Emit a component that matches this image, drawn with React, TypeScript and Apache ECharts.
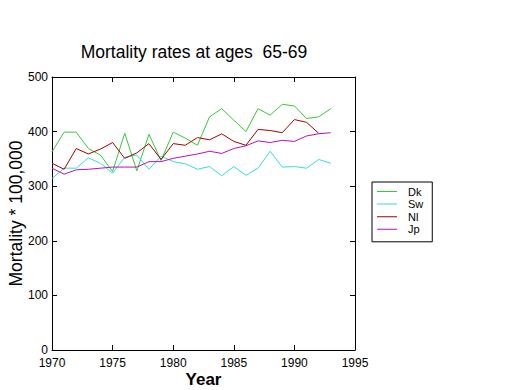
import React, { useEffect, useRef } from "react";
import * as echarts from "echarts";

const years = [1970,1971,1972,1973,1974,1975,1976,1977,1978,1979,1980,1981,1982,1983,1984,1985,1986,1987,1988,1989,1990,1991,1992,1993];
const dk = [363,399,399,369,357,327,397,328,395,347,399,388,375,427,442,421,400,442,430,450,447,424,427,442];
const sw = [314,333,333,352,342,324,353,357,331,355,345,341,331,336,319,336,320,333,364,335,336,333,349,342];
const nl = [342,331,369,359,368,380,351,361,378,349,378,375,389,385,396,382,375,404,402,398,422,417,397];
const jp = [333,322,330,331,333,335,335,335,345,345,351,355,359,364,360,369,374,383,380,384,382,392,396,398];

const seriesNames = ["Dk", "Sw", "Nl", "Jp"];
const seriesColors = ["#33cc33", "#33dddd", "#aa0000", "#bb11bb"];
const seriesData = [dk, sw, nl, jp];

const legendIcon =
  "path://M0,0L0.01,0L0.01,0.01Z M0,5L20,5L20,6L0,6Z M19.99,11L20,11L20,10.99Z";

export default function App() {
  const ref = useRef<HTMLDivElement>(null);
  useEffect(() => {
    const chart = echarts.init(ref.current!, null, { renderer: "svg" });
    const font = "Liberation Sans, Arial, sans-serif";
    const axisCommon = {
      type: "value" as const,
      axisLine: { show: true, onZero: false, lineStyle: { color: "#000", width: 1 } },
      axisTick: { show: true, inside: true, length: 5, lineStyle: { color: "#000" } },
      splitLine: { show: false },
    };
    chart.setOption({
      animation: false,
      backgroundColor: "#fff",
      textStyle: { fontFamily: font },
      graphic: [
        {
          type: "text",
          x: 194,
          y: 52,
          style: {
            text: "Mortality rates at ages  65-69",
            font: "17.5px " + font,
            fill: "#000",
            align: "center",
            verticalAlign: "middle",
          },
        },
      ],
      grid: { left: 52, right: 165, top: 77, bottom: 40, containLabel: false, outerBoundsMode: "none" },
      legend: {
        orient: "vertical",
        left: 372,
        top: 182,
        width: 61,
        padding: [4, 9, 7, 5],
        borderColor: "#000",
        borderWidth: 1,
        itemWidth: 20,
        itemHeight: 11,
        itemGap: 1.6,
        data: seriesNames.map((name, i) => ({
          name,
          icon: legendIcon,
          itemStyle: { color: seriesColors[i], borderWidth: 0 },
        })),
        textStyle: { fontSize: 11, color: "#000", fontFamily: font, padding: [0, 0, 0, 6] },
      },
      xAxis: [
        {
          ...axisCommon,
          min: 1970,
          max: 1995,
          interval: 5,
          position: "bottom",
          name: "Year",
          nameLocation: "middle",
          nameGap: 21,
          nameMoveOverlap: false,
          nameTextStyle: { fontSize: 17, fontWeight: "bold", color: "#000", fontFamily: font },
          axisLabel: { fontSize: 12, color: "#000", margin: 7, fontFamily: font, formatter: (v: number) => String(v) },
        },
        {
          ...axisCommon,
          min: 1970,
          max: 1995,
          interval: 5,
          position: "top",
          axisLabel: { show: false },
        },
      ],
      yAxis: [
        {
          ...axisCommon,
          min: 0,
          max: 500,
          interval: 100,
          position: "left",
          name: "Mortality * 100,000",
          nameLocation: "middle",
          nameGap: 27,
          nameMoveOverlap: false,
          nameTextStyle: { fontSize: 17.5, color: "#000", fontFamily: font },
          axisLabel: { fontSize: 12, color: "#000", margin: 4, fontFamily: font, formatter: (v: number) => String(v) },
        },
        {
          ...axisCommon,
          min: 0,
          max: 500,
          interval: 100,
          position: "right",
          axisLabel: { show: false },
        },
      ],
      series: seriesNames.map((name, i) => ({
        name,
        type: "line",
        symbol: "none",
        xAxisIndex: 0,
        yAxisIndex: 0,
        lineStyle: { width: 1, color: seriesColors[i] },
        itemStyle: { color: seriesColors[i] },
        data: seriesData[i].map((v, j) => [years[j], v]),
      })),
    });
    return () => chart.dispose();
  }, []);
  return <div ref={ref} style={{ width: 520, height: 390, position: "absolute", left: 0, top: 0 }} />;
}
